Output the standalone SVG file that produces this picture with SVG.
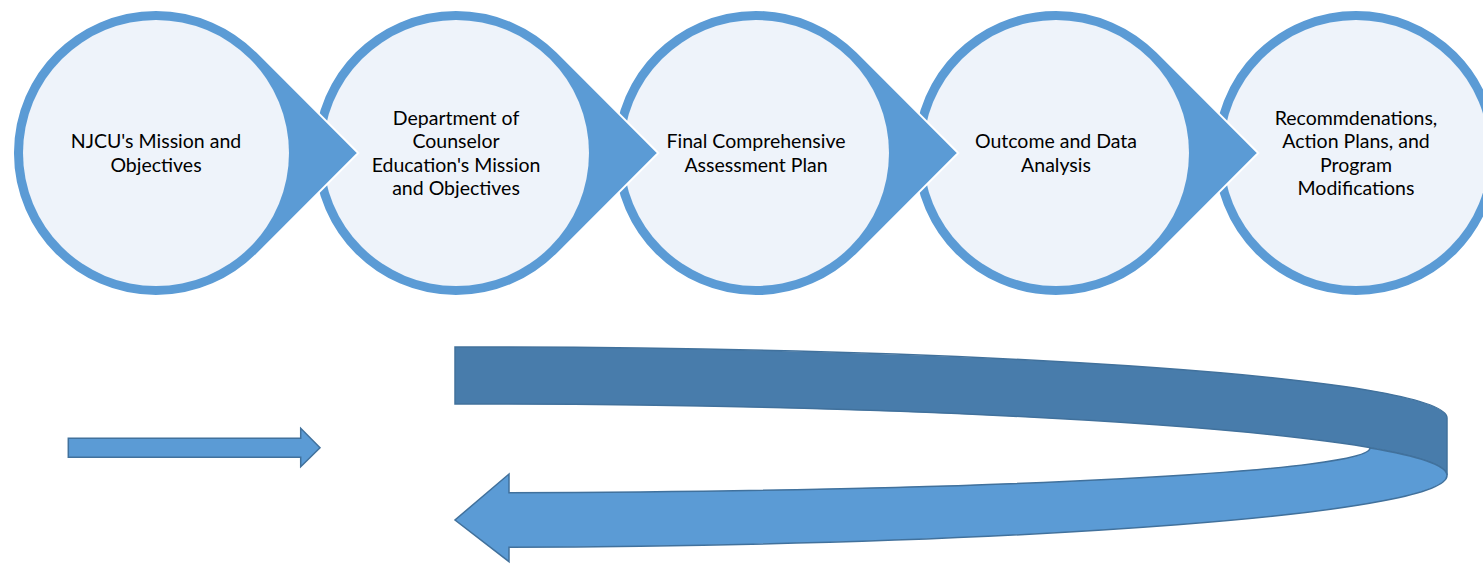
<svg xmlns="http://www.w3.org/2000/svg" width="1483" height="566" viewBox="0 0 1483 566">
<style>
.ring{fill:#5B9BD5;stroke:#FFFFFF;stroke-width:2;stroke-linejoin:miter}
.inner{fill:#EEF3FA}
.lbl{font-family:Lato,"Liberation Sans",sans-serif;font-size:19.5px;fill:#000;text-anchor:middle}
.back{fill:#487CAB;stroke:#41719C;stroke-width:1.5}
.front{fill:#5B9BD5;stroke:#41719C;stroke-width:1.5}
</style>
<rect width="1483" height="566" fill="#FFFFFF"/>
<g id="node5">
<circle class="ring" cx="1356" cy="153" r="143"/>
<circle class="inner" cx="1356" cy="153" r="133"/>
<text class="lbl" x="1356"><tspan x="1356" y="125">Recommdenations,</tspan><tspan x="1356" y="148">Action Plans, and</tspan><tspan x="1356" y="172">Program</tspan><tspan x="1356" y="195">Modifications</tspan></text>
</g>
<g id="node4">
<path class="ring" d="M1157.1 51.9 L1258.2 153 L1157.1 254.1 A143 143 0 1 1 1157.1 51.9 Z"/>
<circle class="inner" cx="1056" cy="153" r="133"/>
<text class="lbl"><tspan x="1056" y="148">Outcome and Data</tspan><tspan x="1056" y="172">Analysis</tspan></text>
</g>
<g id="node3">
<path class="ring" d="M857.1 51.9 L958.2 153 L857.1 254.1 A143 143 0 1 1 857.1 51.9 Z"/>
<circle class="inner" cx="756" cy="153" r="133"/>
<text class="lbl"><tspan x="756" y="148">Final Comprehensive</tspan><tspan x="756" y="172">Assessment Plan</tspan></text>
</g>
<g id="node2">
<path class="ring" d="M557.1 51.9 L658.2 153 L557.1 254.1 A143 143 0 1 1 557.1 51.9 Z"/>
<circle class="inner" cx="456" cy="153" r="133"/>
<text class="lbl"><tspan x="456" y="125">Department of</tspan><tspan x="456" y="148">Counselor</tspan><tspan x="456" y="172">Education's Mission</tspan><tspan x="456" y="195">and Objectives</tspan></text>
</g>
<g id="node1">
<path class="ring" d="M257.1 51.9 L358.2 153 L257.1 254.1 A143 143 0 1 1 257.1 51.9 Z"/>
<circle class="inner" cx="156" cy="153" r="133"/>
<text class="lbl"><tspan x="156" y="148">NJCU's Mission and</tspan><tspan x="156" y="172">Objectives</tspan></text>
</g>
<g id="connectors">
<path id="small-arrow" class="front" d="M68.3 438.3 L300.7 438.3 L300.7 428.3 L320 447.7 L300.7 466.7 L300.7 457.3 L68.3 457.3 Z"/>
<g id="curved-arrow">
<path class="back" d="M455 347 A992 71 0 0 1 1447 418 L1447 475 A992 71 0 0 0 455 404 Z"/>
<path class="front" d="M509 492.7 A915 44.7 0 0 0 1370 448 A992 71 0 0 1 1447 475 A992 72 0 0 1 509 547.3 L509 561.7 L455 520 L509 474 Z"/>
</g>
</g>
</svg>
